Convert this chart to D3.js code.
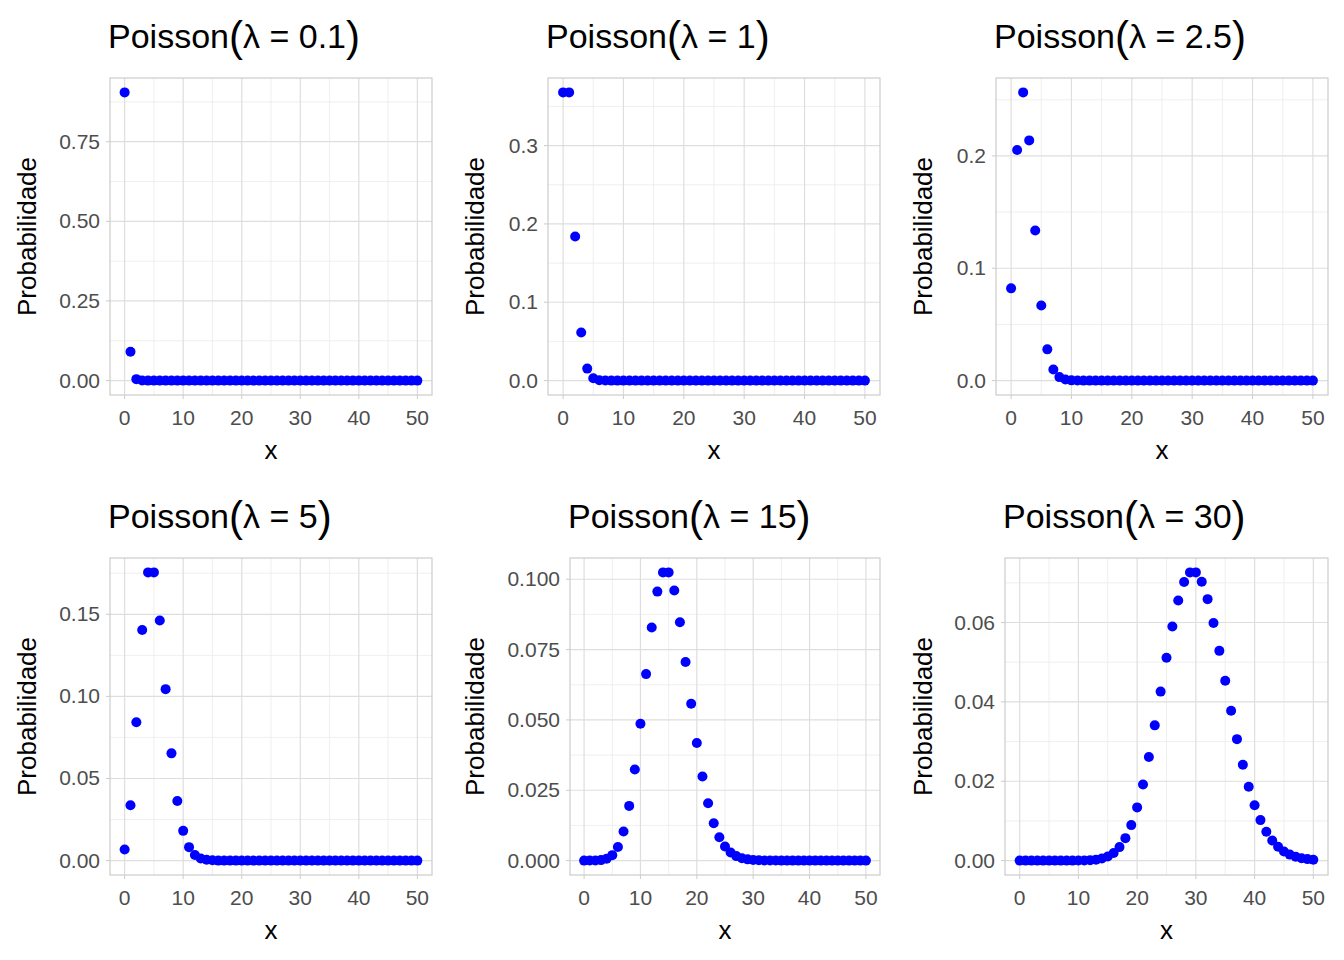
<!DOCTYPE html><html><head><meta charset="utf-8"><script src="https://cdn.jsdelivr.net/npm/d3@7"></script>
<style>body{margin:0;background:#fff}</style></head><body><svg id="c" width="1344" height="960"></svg>
<script>
const xs = d3.range(0,51);
const pad = (a)=>a.concat(Array(51-a.length).fill(0));
const lambdas = ["0.1","1","2.5","5","15","30"];
const p01 = pad([0.9048,0.0905,0.0045,0.0002]);
const p1 = pad([0.3679,0.3679,0.1839,0.0613,0.0153,0.0031,0.0005,0.0001]);
const p25 = pad([0.0821,0.2052,0.2565,0.2138,0.1336,0.0668,0.0278,0.0099,0.0031,0.0009,0.0002,0.0001]);
const p5 = pad([0.0067,0.0337,0.0842,0.1404,0.1755,0.1755,0.1462,0.1044,0.0653,0.0363,0.0181,0.0082,0.0034,0.0013,0.0005,0.0002]);
const p15 = pad([0.0000003,0.0000046,0.0000344,0.000172,0.000645,0.001936,0.004839,0.01037,0.019444,0.032407,0.048611,0.066287,0.082859,0.095607,0.102436,0.102436,0.096034,0.084736,0.070613,0.055747,0.04181,0.029865,0.020362,0.01328,0.0083,0.00498,0.002873,0.001596,0.000855,0.000442,0.000221,0.000107,0.00005,0.000023,0.00001]);
const p30 = [0,0,0,0,0,0,0,0,0,0,0.00002,0.00004,0.00011,0.00024,0.00051,0.00103,0.00193,0.0034,0.00566,0.00894,0.01341,0.01916,0.02612,0.03408,0.04259,0.05111,0.05898,0.06553,0.07021,0.07263,0.07263,0.07029,0.06589,0.0599,0.05286,0.04531,0.03776,0.03061,0.02417,0.01859,0.01394,0.0102,0.00729,0.00508,0.00347,0.00231,0.00151,0.00096,0.0006,0.00037,0.00022];
const series=[p01,p1,p25,p5,p15,p30];
const yTicks=[[0,0.25,0.5,0.75],[0,0.1,0.2,0.3],[0,0.1,0.2],[0,0.05,0.1,0.15],[0,0.025,0.05,0.075,0.1],[0,0.02,0.04,0.06]];
const yFmt=[".2f",".1f",".1f",".2f",".3f",".2f"];
const xTicks=[0,10,20,30,40,50];
const boxes=[[110,432,78,395],[548,880,78,395],[996,1328,78,395],[110,432,558,875],[570,880,558,875],[1005,1328,558,875]];
const svg=d3.select("#c");
const F="Liberation Sans, Arial, sans-serif";
series.forEach((s,i)=>{
  const [l,r,t,b]=boxes[i];
  const mx=d3.max(s);
  const x=d3.scaleLinear().domain([-2.5,52.5]).range([l,r]);
  const y=d3.scaleLinear().domain([-mx*0.05,mx*1.05]).range([b,t]);
  const g=svg.append("g");
  const yt=yTicks[i], step=yt[1]-yt[0];
  const minorY=yt.map(v=>v+step/2).filter(v=>y(v)>=t);
  if(y(yt[0]-step/2)<=b) minorY.unshift(yt[0]-step/2);
  const minorX=[5,15,25,35,45];
  g.selectAll(".mx").data(minorX).join("line").attr("x1",d=>x(d)).attr("x2",d=>x(d)).attr("y1",t).attr("y2",b).attr("stroke","#ebebeb").attr("stroke-width",0.8);
  g.selectAll(".my").data(minorY).join("line").attr("y1",d=>y(d)).attr("y2",d=>y(d)).attr("x1",l).attr("x2",r).attr("stroke","#ebebeb").attr("stroke-width",0.8);
  g.selectAll(".gx").data(xTicks).join("line").attr("x1",d=>x(d)).attr("x2",d=>x(d)).attr("y1",t).attr("y2",b).attr("stroke","#dedede").attr("stroke-width",1.2);
  g.selectAll(".gy").data(yt).join("line").attr("y1",d=>y(d)).attr("y2",d=>y(d)).attr("x1",l).attr("x2",r).attr("stroke","#dedede").attr("stroke-width",1.2);
  g.append("rect").attr("x",l).attr("y",t).attr("width",r-l).attr("height",b-t).attr("fill","none").attr("stroke","#cccccc").attr("stroke-width",1.2);
  g.selectAll(".xt").data(xTicks).join("text").attr("x",d=>x(d)).attr("y",b+30).attr("text-anchor","middle").attr("font-family",F).attr("font-size",21).attr("fill","#4d4d4d").text(d=>d);
  g.selectAll(".xtk").data(xTicks).join("line").attr("x1",d=>x(d)).attr("x2",d=>x(d)).attr("y1",b).attr("y2",b+4).attr("stroke","#cccccc");
  g.selectAll(".yt").data(yt).join("text").attr("x",l-10).attr("y",d=>y(d)+7).attr("text-anchor","end").attr("font-family",F).attr("font-size",21).attr("fill","#4d4d4d").text(d=>d3.format(yFmt[i])(d));
  g.selectAll(".ytk").data(yt).join("line").attr("x1",l-4).attr("x2",l).attr("y1",d=>y(d)).attr("y2",d=>y(d)).attr("stroke","#cccccc");
  g.selectAll("circle").data(s).join("circle").attr("cx",(d,k)=>x(xs[k])).attr("cy",d=>y(d)).attr("r",5).attr("fill","#0000ff");
  g.append("text").attr("x",(l+r)/2).attr("y",b+64).attr("text-anchor","middle").attr("font-family",F).attr("font-size",26).text("x");
  const yl=(i%3==0)?36:(i%3==1?484:932);
  g.append("text").attr("transform",`translate(${yl},${(t+b)/2}) rotate(-90)`).attr("text-anchor","middle").attr("font-family",F).attr("font-size",26).text("Probabilidade");
  const tt=g.append("text").attr("x",l-2).attr("y",t-30).attr("font-family",F).attr("font-size",34);
  tt.append("tspan").text("Poisson");
  tt.append("tspan").attr("font-size",42).attr("dy",3).text("(");
  tt.append("tspan").attr("font-size",34).attr("dy",-3).text("λ = "+lambdas[i]);
  tt.append("tspan").attr("font-size",42).attr("dy",3).text(")");
});
</script></body></html>
